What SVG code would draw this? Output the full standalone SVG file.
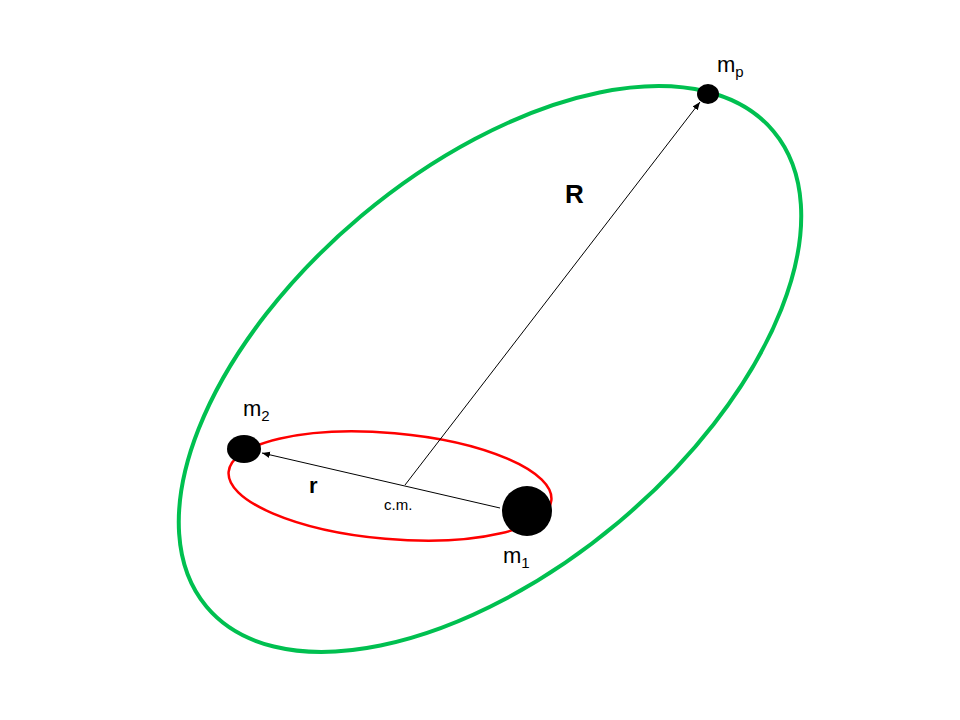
<svg xmlns="http://www.w3.org/2000/svg" width="960" height="720" viewBox="0 0 960 720">
<style>
text{font-family:"Liberation Sans",Arial,sans-serif;fill:#000}
.l{font-size:22px}.s{font-size:15px}
.c{stroke:#000;stroke-width:1;fill:none}
</style>
<defs><marker id="a" viewBox="0 0 10 10" refX="10" refY="5" markerWidth="8" markerHeight="8" orient="auto"><path d="M0,1L10,5L0,9z" fill="#000"/></marker></defs>
<rect width="960" height="720" fill="#fff"/>
<g id="outer"><ellipse cx="490" cy="369" rx="370" ry="200" transform="rotate(-40 490 369)" fill="none" stroke="#00c050" stroke-width="4"/></g>
<g id="inner"><ellipse cx="390" cy="486" rx="162" ry="53" transform="rotate(5 390 486)" fill="none" stroke="#ff0000" stroke-width="2.5"/></g>
<g id="connectors">
<line class="c" x1="500" y1="508" x2="262" y2="453" marker-end="url(#a)"/>
<line class="c" x1="405" y1="485" x2="700" y2="102" marker-end="url(#a)"/>
</g>
<g id="m2"><ellipse cx="244" cy="449" rx="17" ry="14" fill="#000"/><text x="243" y="416" class="l">m<tspan class="s" dy="5">2</tspan></text></g>
<g id="m1"><circle cx="527" cy="511" r="25" fill="#000"/><text x="503" y="563" class="l">m<tspan class="s" dy="5">1</tspan></text></g>
<g id="mp"><ellipse cx="708" cy="94" rx="11" ry="10" fill="#000"/><text x="717" y="72" class="l">m<tspan class="s" dy="5">p</tspan></text></g>
<text x="565" y="203" font-size="26" font-weight="bold">R</text>
<text x="309" y="493" class="l" font-weight="bold">r</text>
<text x="384" y="510" class="s">c.m.</text>
</svg>
